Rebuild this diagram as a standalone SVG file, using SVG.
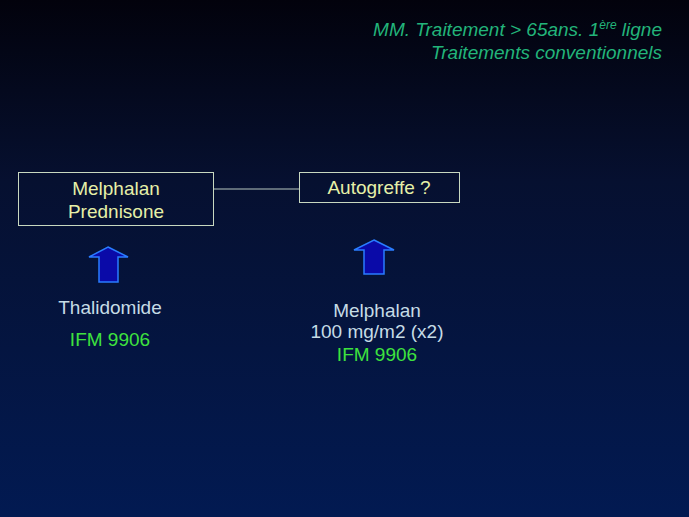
<svg xmlns="http://www.w3.org/2000/svg" width="689" height="517" viewBox="0 0 689 517">
<defs>
<linearGradient id="bg" x1="0" y1="0" x2="0" y2="1">
<stop offset="0" stop-color="#02020c"/>
<stop offset="0.35" stop-color="#061030"/>
<stop offset="1" stop-color="#021a52"/>
</linearGradient>
</defs>
<style>
.box{fill:none;stroke:#c8d8c0;stroke-width:1}
.lt{font-family:"Liberation Sans",Arial,sans-serif;font-size:19px;text-anchor:middle}
.yel{fill:#e6f0a8}
.blu{fill:#c6dce6}
.grn{fill:#3ee23e}
.ttl{font-family:"Liberation Sans",Arial,sans-serif;font-size:19px;font-style:italic;fill:#22b47a;text-anchor:end}
.arr{fill:#0a0aa8;stroke:#2a7cff;stroke-width:1.5}
.con{stroke:#b8c8c0;stroke-width:1}
</style>
<rect width="689" height="517" fill="url(#bg)"/>
<g id="title">
<text class="ttl" x="662" y="36">MM. Traitement &gt; 65ans. 1<tspan font-size="12" dy="-7">ère</tspan><tspan dy="7"> ligne</tspan></text>
<text class="ttl" x="662" y="59">Traitements conventionnels</text>
</g>
<g id="connectors">
<line class="con" x1="214" y1="189" x2="299" y2="189"/>
</g>
<g id="mp">
<rect class="box" x="18.5" y="172.5" width="195" height="53"/>
<text class="lt yel" x="116" y="195">Melphalan</text>
<text class="lt yel" x="116" y="218">Prednisone</text>
</g>
<g id="auto">
<rect class="box" x="299.5" y="172.5" width="160" height="30"/>
<text class="lt yel" x="379" y="194">Autogreffe ?</text>
</g>
<g id="thal">
<polygon class="arr" points="108,247 128,257 118,257 118,282 99,282 99,257 89,257"/>
<text class="lt blu" x="110" y="314">Thalidomide</text>
<text class="lt grn" x="110" y="346">IFM 9906</text>
</g>
<g id="mel">
<polygon class="arr" points="374,240 394,250 384,250 384,274 364,274 364,250 354,250"/>
<text class="lt blu" x="377" y="317">Melphalan</text>
<text class="lt blu" x="377" y="338">100 mg/m2 (x2)</text>
<text class="lt grn" x="377" y="361">IFM 9906</text>
</g>
</svg>
